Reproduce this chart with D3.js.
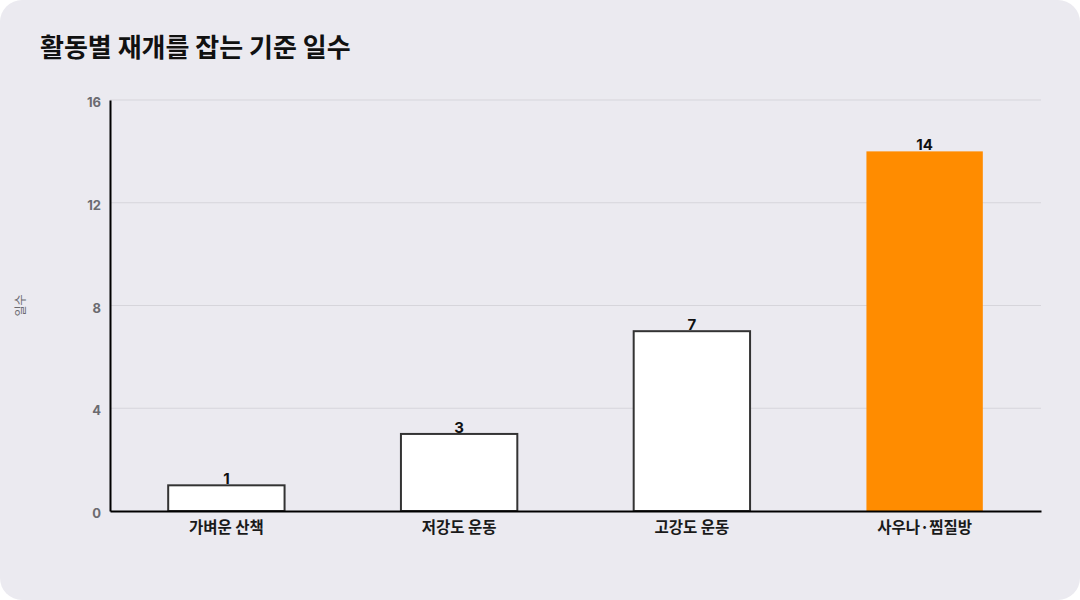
<!DOCTYPE html>
<html>
<head>
<meta charset="utf-8">
<script src="https://cdn.jsdelivr.net/npm/d3@7"></script>
<style>
  html, body { margin: 0; padding: 0; background: #ffffff; }
  svg { display: block; font-family: "Noto Sans CJK KR", "Noto Sans", sans-serif; }
</style>
</head>
<body>
<div id="chart"></div>
<script>
const categories = ["가벼운 산책", "저강도 운동", "고강도 운동", "사우나·찜질방"];
const days = [1, 3, 7, 14];
const highlight = [false, false, false, true];
const yTicks = [0, 4, 8, 12, 16];

const width = 1080;
const height = 600;
const margin = { top: 100, right: 39, bottom: 89, left: 110 };

const svg = d3
  .select("#chart")
  .append("svg")
  .attr("width", width)
  .attr("height", height);

svg
  .append("rect")
  .attr("width", width)
  .attr("height", height)
  .attr("rx", 22)
  .attr("fill", "#ebeaf0");

svg
  .append("text")
  .attr("x", 40)
  .attr("y", 57)
  .attr("font-size", 26)
  .attr("font-weight", 700)
  .attr("fill", "#111")
  .text("활동별 재개를 잡는 기준 일수");

const x = d3
  .scaleBand()
  .domain(categories)
  .range([margin.left, width - margin.right])
  .paddingInner(0.5)
  .paddingOuter(0.25);

const y = d3
  .scaleLinear()
  .domain([0, 16])
  .range([height - margin.bottom, margin.top]);

// gridlines
svg
  .append("g")
  .selectAll("line")
  .data(yTicks.filter((d) => d > 0))
  .join("line")
  .attr("x1", margin.left)
  .attr("x2", width - margin.right)
  .attr("y1", (d) => y(d))
  .attr("y2", (d) => y(d))
  .attr("stroke", "#d6d5db")
  .attr("stroke-width", 1);

// y axis
const yAxis = svg
  .append("g")
  .attr("transform", `translate(${margin.left},0)`)
  .call(d3.axisLeft(y).tickValues(yTicks).tickSize(0).tickPadding(9));
yAxis.select(".domain").attr("stroke", "#000").attr("stroke-width", 2);
yAxis
  .selectAll("text")
  .attr("font-size", 13)
  .attr("font-weight", 700)
  .attr("fill", "#6b6b70")
  .attr("font-family", "Inter, 'Noto Sans', sans-serif")
  .attr("dy", "0.5em");

svg
  .append("text")
  .attr("transform", `translate(25,${(margin.top + height - margin.bottom) / 2}) rotate(-90)`)
  .attr("text-anchor", "middle")
  .attr("font-size", 12)
  .attr("fill", "#6b6b70")
  .text("일수");

// bars
svg
  .append("g")
  .selectAll("rect")
  .data(days)
  .join("rect")
  .attr("x", (d, i) => x(categories[i]))
  .attr("width", x.bandwidth())
  .attr("y", (d) => y(d))
  .attr("height", (d) => y(0) - y(d))
  .attr("fill", (d, i) => (highlight[i] ? "#ff8c00" : "#ffffff"))
  .attr("stroke", (d, i) => (highlight[i] ? "none" : "#333"))
  .attr("stroke-width", 2);

// value labels
svg
  .append("g")
  .selectAll("text")
  .data(days)
  .join("text")
  .attr("x", (d, i) => x(categories[i]) + x.bandwidth() / 2)
  .attr("y", (d) => y(d) - 1)
  .attr("text-anchor", "middle")
  .attr("font-size", 15)
  .attr("font-weight", 700)
  .attr("fill", "#111")
  .attr("font-family", "Inter, 'Noto Sans', sans-serif")
  .text((d) => d);

// x axis
const xAxis = svg
  .append("g")
  .attr("transform", `translate(0,${y(0)})`)
  .call(d3.axisBottom(x).tickSize(0).tickPadding(11));
xAxis.select(".domain").attr("stroke", "#000").attr("stroke-width", 2);
xAxis
  .selectAll("text")
  .attr("font-size", 15.5)
  .attr("font-weight", 700)
  .attr("fill", "#1a1a1a")
  .attr("font-family", "'Noto Sans CJK KR', sans-serif");
</script>
</body>
</html>
